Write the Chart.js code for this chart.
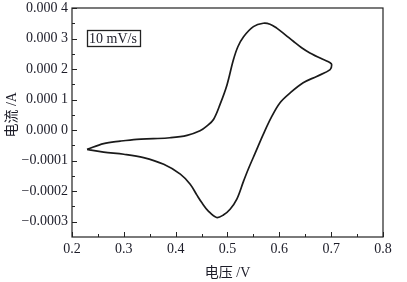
<!DOCTYPE html>
<html>
<head>
<meta charset="utf-8">
<script src="https://cdn.jsdelivr.net/npm/chart.js@4.4.1/dist/chart.umd.min.js"></script>
<style>
  html, body { margin: 0; padding: 0; background: #fff; }
  #wrap { width: 407px; height: 282px; }
</style>
</head>
<body>
<div id="wrap"><canvas id="cv"></canvas></div>
<script>
// CV curve: forward scan (upper branch) then reverse scan
var voltage = [
  0.229, 0.261, 0.293, 0.325, 0.357, 0.389, 0.422, 0.447, 0.460, 0.473,
  0.486, 0.499, 0.511, 0.520, 0.531, 0.550, 0.569, 0.582, 0.595, 0.611,
  0.627, 0.643, 0.659, 0.685, 0.698, 0.701,
  0.698, 0.672, 0.646, 0.621, 0.601, 0.584, 0.569, 0.554, 0.540, 0.531,
  0.518, 0.505, 0.492, 0.479, 0.463, 0.451, 0.441, 0.428, 0.409, 0.377,
  0.338, 0.300, 0.261, 0.229
];
var current = [
  -0.000063, -0.000044, -0.000036, -0.000030, -0.000028, -0.000025, -0.000017, -0.000002, 0.000013, 0.000035,
  0.000086, 0.000148, 0.000228, 0.000273, 0.000306, 0.000339, 0.000350, 0.000347, 0.000334, 0.000313,
  0.000291, 0.000270, 0.000253, 0.000231, 0.000221, 0.000214,
  0.000198, 0.000176, 0.000155, 0.000122, 0.000089, 0.000040, -0.000014, -0.000073, -0.000128, -0.000167,
  -0.000226, -0.000259, -0.000278, -0.000286, -0.000265, -0.000239, -0.000213, -0.000177, -0.000144, -0.000112,
  -0.000090, -0.000079, -0.000072, -0.000063
];

var xTicks = [0.2, 0.3, 0.4, 0.5, 0.6, 0.7, 0.8];
var xLabels = ['0.2', '0.3', '0.4', '0.5', '0.6', '0.7', '0.8'];
var yTicks = [0.0004, 0.0003, 0.0002, 0.0001, 0, -0.0001, -0.0002, -0.0003];
var yLabels = ['0.000 4', '0.000 3', '0.000 2', '0.000 1', '0.000 0', '\u22120.0001', '\u22120.0002', '\u22120.0003'];
var xMinor = [0.25, 0.35, 0.45, 0.55, 0.65, 0.75];
var yMinor = [0.00035, 0.00025, 0.00015, 0.00005, -0.00005, -0.00015, -0.00025];

var scanLabel = '10 mV/s';
var yTitle = '电流 /A';

var points = voltage.map(function(v, i) { return {x: v, y: current[i]}; });

var FONT = "'Liberation Serif', 'Noto Sans CJK SC', serif";
var INK = '#1c1c28';

// frame, inward tick marks, y title and the scan-rate box
var framePlugin = {
  id: 'frame',
  afterDraw: function(chart) {
    var ctx = chart.ctx, a = chart.chartArea;
    var xs = chart.scales.x, ys = chart.scales.y;
    ctx.save();
    ctx.strokeStyle = '#222';
    ctx.lineWidth = 1.2;
    ctx.strokeRect(a.left, a.top, a.right - a.left, a.bottom - a.top);
    ctx.lineWidth = 1;
    function tickX(v, len) {
      var px = Math.round(xs.getPixelForValue(v)) + 0.5;
      ctx.beginPath(); ctx.moveTo(px, a.bottom); ctx.lineTo(px, a.bottom - len); ctx.stroke();
    }
    function tickY(v, len) {
      var py = Math.round(ys.getPixelForValue(v)) + 0.5;
      ctx.beginPath(); ctx.moveTo(a.left, py); ctx.lineTo(a.left + len, py); ctx.stroke();
    }
    xTicks.forEach(function(v) { tickX(v, 5); });
    xMinor.forEach(function(v) { tickX(v, 3); });
    yTicks.forEach(function(v) { tickY(v, 5); });
    yMinor.forEach(function(v) { tickY(v, 3); });

    // label box
    var bx = xs.getPixelForValue(0.228), by = ys.getPixelForValue(0.000328);
    var bw = xs.getPixelForValue(0.330) - bx, bh = ys.getPixelForValue(0.000276) - by;
    ctx.lineWidth = 1.3;
    ctx.strokeRect(Math.round(bx) + 0.5, Math.round(by) + 0.5, Math.round(bw), Math.round(bh));
    ctx.fillStyle = INK;
    ctx.font = '14px ' + FONT;
    ctx.textAlign = 'center';
    ctx.textBaseline = 'middle';
    ctx.fillText(scanLabel, bx + bw / 2, by + bh / 2 + 1);

    // rotated y title, sitting a little above the middle as in the source
    ctx.translate(12, ys.getPixelForValue(0.00005));
    ctx.rotate(-Math.PI / 2);
    ctx.font = '14px ' + FONT;
    ctx.fillText(yTitle, 0, 0);
    ctx.restore();
  }
};

new Chart('cv', {
  type: 'scatter',
  data: {
    datasets: [{
      data: points,
      showLine: true,
      borderColor: '#1a1a1a',
      borderWidth: 1.7,
      pointRadius: 0,
      tension: 0.35,
      fill: false
    }]
  },
  options: {
    responsive: true,
    maintainAspectRatio: false,
    animation: false,
    layout: { padding: { top: 8, right: 24, left: 0, bottom: 0 } },
    plugins: { legend: { display: false }, tooltip: { enabled: false } },
    scales: {
      x: {
        type: 'linear',
        min: 0.2,
        max: 0.8,
        grid: { display: false, drawTicks: false },
        border: { display: false },
        afterBuildTicks: function(s) { s.ticks = xTicks.map(function(v) { return {value: v}; }); },
        afterFit: function(s) { s.height = 45; s.paddingLeft = 0; s.paddingRight = 0; },
        ticks: {
          padding: 4,
          color: INK,
          font: { family: FONT, size: 14 },
          maxRotation: 0,
          callback: function(v) { var i = xTicks.indexOf(v); return i < 0 ? '' : xLabels[i]; }
        },
        title: {
          display: true,
          text: '电压 /V',
          color: INK,
          font: { family: FONT, size: 14 },
          padding: { top: 1, bottom: 0 }
        }
      },
      y: {
        type: 'linear',
        min: -0.00035,
        max: 0.0004,
        grid: { display: false, drawTicks: false },
        border: { display: false },
        afterBuildTicks: function(s) { s.ticks = yTicks.map(function(v) { return {value: v}; }); },
        afterFit: function(s) { s.width = 72; s.paddingTop = 0; s.paddingBottom = 0; },
        ticks: {
          padding: 4,
          color: INK,
          font: { family: FONT, size: 14 },
          callback: function(v) { var i = yTicks.indexOf(v); return i < 0 ? '' : yLabels[i]; }
        },
        title: { display: false }
      }
    }
  },
  plugins: [framePlugin]
});
</script>
</body>
</html>
